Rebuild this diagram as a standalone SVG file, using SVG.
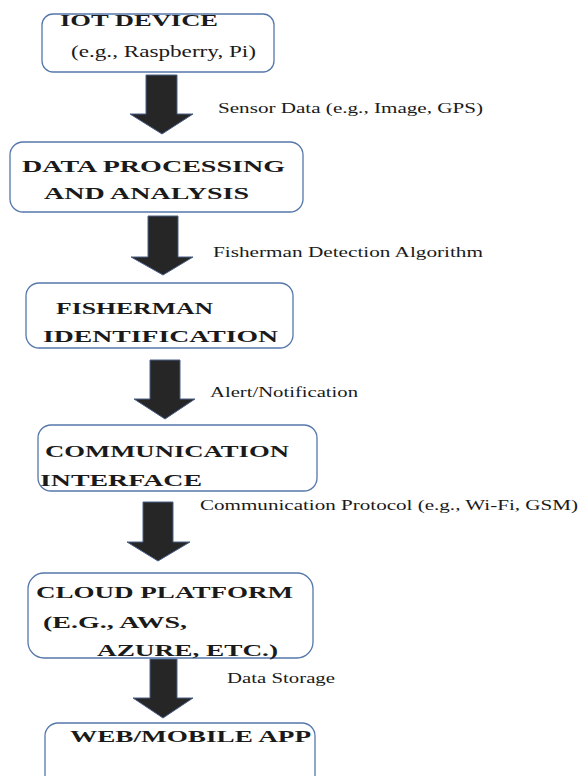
<svg xmlns="http://www.w3.org/2000/svg" width="580" height="776" viewBox="0 0 580 776">
<style>
.box{fill:#fff;stroke:#5577aa;stroke-width:1.3}
.t{font-family:"Liberation Serif","Times New Roman",serif;font-weight:bold;font-size:16px;fill:#1a1a1a}
.s{font-family:"Liberation Serif","Times New Roman",serif;font-size:16px;fill:#1a1a1a}
.l{font-family:"Liberation Serif","Times New Roman",serif;font-size:14px;fill:#1a1a1a}
.ar{fill:#262626;stroke:#4a6088;stroke-width:1}
</style>
<rect width="580" height="776" fill="#fff"/>
<g id="connectors">
<polygon class="ar" points="146,75 177,75 177,114 193,114 162,134 130,114 146,114"/>
<polygon class="ar" points="148,216 178,216 178,257 193,257 163,275 131,257 148,257"/>
<polygon class="ar" points="150,360 180,360 180,399 195,399 165,419 134,399 150,399"/>
<polygon class="ar" points="143,502 173,502 173,542 190,542 158,561 127,542 143,542"/>
<polygon class="ar" points="150,659 177,659 177,698 193,698 163,718 133,698 150,698"/>
<text class="l" x="218" y="113" textLength="265" lengthAdjust="spacingAndGlyphs">Sensor Data (e.g., Image, GPS)</text>
<text class="l" x="213" y="257" textLength="270" lengthAdjust="spacingAndGlyphs">Fisherman Detection Algorithm</text>
<text class="l" x="210" y="397" textLength="148" lengthAdjust="spacingAndGlyphs">Alert/Notification</text>
<text class="l" x="200" y="510" textLength="378" lengthAdjust="spacingAndGlyphs">Communication Protocol (e.g., Wi-Fi, GSM)</text>
<text class="l" x="227" y="683" textLength="108" lengthAdjust="spacingAndGlyphs">Data Storage</text>
</g>
<g id="iot-device">
<rect class="box" x="42" y="14" width="232" height="58" rx="11"/>
<text class="t" x="60" y="26" textLength="158" lengthAdjust="spacingAndGlyphs">IOT DEVICE</text>
<text class="s" x="71" y="57" textLength="185" lengthAdjust="spacingAndGlyphs">(e.g., Raspberry, Pi)</text>
</g>
<g id="data-processing">
<rect class="box" x="10" y="142" width="293" height="70" rx="13"/>
<text class="t" x="22" y="172" textLength="263" lengthAdjust="spacingAndGlyphs">DATA PROCESSING</text>
<text class="t" x="44" y="199" textLength="205" lengthAdjust="spacingAndGlyphs">AND ANALYSIS</text>
</g>
<g id="fisherman-identification">
<rect class="box" x="26" y="283" width="267" height="65" rx="13"/>
<text class="t" x="56" y="314" textLength="157" lengthAdjust="spacingAndGlyphs">FISHERMAN</text>
<text class="t" x="43" y="342" textLength="235" lengthAdjust="spacingAndGlyphs">IDENTIFICATION</text>
</g>
<g id="communication-interface">
<rect class="box" x="38" y="425" width="279" height="66" rx="13"/>
<text class="t" x="45" y="457" textLength="244" lengthAdjust="spacingAndGlyphs">COMMUNICATION</text>
<text class="t" x="40" y="486" textLength="162" lengthAdjust="spacingAndGlyphs">INTERFACE</text>
</g>
<g id="cloud-platform">
<rect class="box" x="28" y="573" width="285" height="85" rx="16"/>
<text class="t" x="36" y="598" textLength="257" lengthAdjust="spacingAndGlyphs">CLOUD PLATFORM</text>
<text class="t" x="43" y="628" textLength="144" lengthAdjust="spacingAndGlyphs">(E.G., AWS,</text>
<text class="t" x="97" y="656" textLength="181" lengthAdjust="spacingAndGlyphs">AZURE, ETC.)</text>
</g>
<g id="web-mobile-app">
<rect class="box" x="45" y="723" width="270" height="70" rx="13"/>
<text class="t" x="70" y="742" textLength="241" lengthAdjust="spacingAndGlyphs">WEB/MOBILE APP</text>
</g>
</svg>
